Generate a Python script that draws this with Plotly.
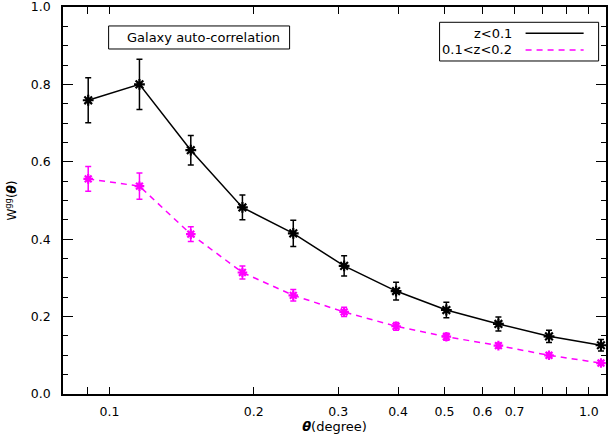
import plotly.graph_objects as go

theta = [0.0903, 0.1155, 0.1478, 0.1894, 0.2418, 0.3087, 0.3962, 0.5044, 0.6477, 0.8259, 1.060]
w_low = [0.759, 0.800, 0.630, 0.482, 0.415, 0.331, 0.266, 0.217, 0.181, 0.149, 0.126]
err_low = [0.058, 0.065, 0.038, 0.032, 0.034, 0.026, 0.023, 0.020, 0.018, 0.016, 0.015]
w_high = [0.556, 0.537, 0.413, 0.314, 0.255, 0.212, 0.175, 0.148, 0.125, 0.100, 0.080]
err_high = [0.032, 0.034, 0.019, 0.017, 0.015, 0.012, 0.010, 0.009, 0.007, 0.006, 0.006]
labels = ["z<0.1", "0.1<z<0.2"]
xtick_vals = [0.1, 0.2, 0.3, 0.4, 0.5, 0.6, 0.7, 1.0]
xtick_text = ["0.1", "0.2", "0.3", "0.4", "0.5", "0.6", "0.7", "1.0"]
xminor_vals = [0.09, 0.8, 0.9]
ytick_vals = [0, 0.2, 0.4, 0.6, 0.8, 1.0]
ytick_text = ["0.0", "0.2", "0.4", "0.6", "0.8", "1.0"]

FONT = "DejaVu Sans"
BLACK = "#000000"
MAG = "#FF00FF"

fig = go.Figure()
fig.add_trace(go.Scatter(
    x=theta, y=w_low, name=labels[0], mode="lines+markers",
    line=dict(color=BLACK, width=1.5),
    marker=dict(symbol="asterisk-open", size=9, color=BLACK, line=dict(color=BLACK, width=2.2)),
    error_y=dict(type="data", array=err_low, color=BLACK, thickness=1.5, width=3),
    showlegend=False))
fig.add_trace(go.Scatter(
    x=theta, y=w_high, name=labels[1], mode="lines+markers",
    line=dict(color=MAG, width=1.5, dash="6px,5px"),
    marker=dict(symbol="asterisk-open", size=8, color=MAG, line=dict(color=MAG, width=2.2)),
    error_y=dict(type="data", array=err_high, color=MAG, thickness=1.5, width=3),
    showlegend=False))

fig.update_layout(
    width=613, height=435,
    margin=dict(l=63, r=7, t=7, b=41),
    paper_bgcolor="white", plot_bgcolor="white",
    font=dict(family=FONT, size=12, color=BLACK),
    xaxis=dict(
        type="log", range=[-1.0969, 0.0358], automargin=False,
        tickmode="array", tickvals=xtick_vals, ticktext=xtick_text,
        ticks="inside", ticklen=7, tickwidth=1, tickcolor=BLACK,
        minor=dict(tickmode="array", tickvals=xminor_vals, ticks="inside", ticklen=7,
                   tickcolor=BLACK, tickwidth=1, showgrid=False),
        showline=True, linecolor=BLACK, linewidth=1.5, mirror="ticks",
        showgrid=False, zeroline=False, ticklabeloverflow="allow",
        tickfont=dict(size=12.5), ticklabelstandoff=5,
        title=dict(text="<b><i>θ</i></b>(degree)", font=dict(size=13), standoff=3),
    ),
    yaxis=dict(
        range=[0, 1.0], automargin=False,
        tickmode="array", tickvals=ytick_vals, ticktext=ytick_text,
        ticks="inside", ticklen=10, tickwidth=1, tickcolor=BLACK,
        minor=dict(dtick=0.05, ticks="inside", ticklen=5, tickcolor=BLACK, tickwidth=1, showgrid=False),
        showline=True, linecolor=BLACK, linewidth=1.5, mirror="ticks",
        showgrid=False, zeroline=False, ticklabeloverflow="allow",
        tickfont=dict(size=12.5), ticklabelstandoff=8,
        title=dict(text="W<sup>gg</sup>(<b><i>θ</i></b>)", font=dict(size=12), standoff=12),
    ),
)

# Annotation box
fig.add_shape(type="rect", xref="paper", yref="paper", x0=0.084, x1=0.4173, y0=0.8915, y1=0.951,
              line=dict(color=BLACK, width=1), fillcolor="white")
fig.add_annotation(xref="paper", yref="paper", x=0.2584, y=0.9212, text="Galaxy auto-correlation",
                   showarrow=False, font=dict(size=13), xanchor="center", yanchor="middle")

# Custom legend (text on left, line sample on right)
fig.add_shape(type="rect", xref="paper", yref="paper", x0=0.6935, x1=0.9864, y0=0.8605, y1=0.9605,
              line=dict(color=BLACK, width=1), fillcolor="white")
fig.add_annotation(xref="paper", yref="paper", x=0.8298, y=0.932, text=labels[0], showarrow=False,
                   font=dict(size=13), xanchor="right", yanchor="middle")
fig.add_annotation(xref="paper", yref="paper", x=0.8298, y=0.889, text=labels[1], showarrow=False,
                   font=dict(size=13), xanchor="right", yanchor="middle")
fig.add_shape(type="line", xref="paper", yref="paper", x0=0.8519, x1=0.9588, y0=0.932, y1=0.932,
              line=dict(color=BLACK, width=1.5))
fig.add_shape(type="line", xref="paper", yref="paper", x0=0.8519, x1=0.9588, y0=0.889, y1=0.889,
              line=dict(color=MAG, width=1.5, dash="6px,5px"))

fig.write_html("out.html", config={"displayModeBar": False},
               post_script="document.body.style.margin='0';")
